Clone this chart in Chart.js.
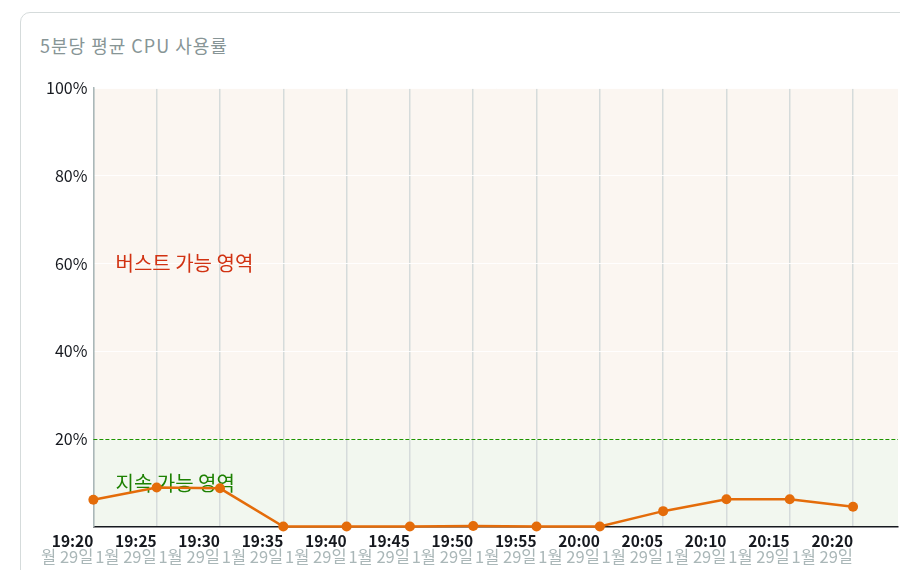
<!DOCTYPE html>
<html><head><meta charset="utf-8">
<script src="https://cdn.jsdelivr.net/npm/chart.js@4.4.1/dist/chart.umd.min.js"></script>
<style>
html,body{margin:0;padding:0;background:#fff;width:900px;height:570px;overflow:hidden;}
.card{position:absolute;left:20px;top:12px;width:920px;height:600px;border:1px solid #d5dbdb;border-radius:10px;box-sizing:border-box;background:#fff;}
.title{position:absolute;left:40px;top:32px;font-family:"Noto Sans CJK KR","Noto Sans",sans-serif;font-size:18px;color:#879596;letter-spacing:1px;}
.wrap{position:absolute;left:40px;top:70px;width:860px;height:500px;overflow:hidden;}
#c{position:absolute;left:0;top:0;}
</style></head>
<body>
<div class="card"></div>
<div class="title">5분당 평균 CPU 사용률</div>
<div class="wrap"><canvas id="c" width="863" height="500"></canvas></div>
<script>
const timeLabels = ["19:20","19:25","19:30","19:35","19:40","19:45","19:50","19:55","20:00","20:05","20:10","20:15","20:20"];
const dateLabels = ["1월 29일","1월 29일","1월 29일","1월 29일","1월 29일","1월 29일","1월 29일","1월 29일","1월 29일","1월 29일","1월 29일","1월 29일","1월 29일"];
const cpuValues = [6.2, 9.0, 8.8, 0.1, 0.1, 0.1, 0.2, 0.1, 0.1, 3.6, 6.3, 6.3, 4.6];
const yTickValues = [20, 40, 60, 80, 100];
const thresholdValue = 20;
const burstLabel = "버스트 가능 영역";
const sustainLabel = "지속 가능 영역";

const FONT = '"Noto Sans CJK KR","Noto Sans",sans-serif';

const zonePlugin = {
  id: 'zones',
  beforeDraw(chart) {
    const {ctx, chartArea: a, scales: {y}} = chart;
    const yt = y.getPixelForValue(thresholdValue);
    const y0 = y.getPixelForValue(0);
    const y1 = y.getPixelForValue(100);
    ctx.save();
    ctx.fillStyle = '#fbf6f1';
    ctx.fillRect(a.left, y1, a.right - a.left, yt - y1);
    ctx.fillStyle = '#f2f7ef';
    ctx.fillRect(a.left, yt, a.right - a.left, y0 - yt);
    ctx.restore();
  }
};
const overlayPlugin = {
  id: 'overlay',
  beforeDatasetsDraw(chart) {
    const {ctx, chartArea: a, scales: {x, y}} = chart;
    const yt = y.getPixelForValue(thresholdValue);
    ctx.save();
    ctx.strokeStyle = '#1f9400';
    ctx.lineWidth = 1;
    ctx.setLineDash([4, 2]);
    ctx.beginPath();
    ctx.moveTo(a.left, Math.round(yt) + 0.5);
    ctx.lineTo(a.right, Math.round(yt) + 0.5);
    ctx.stroke();
    ctx.setLineDash([]);
    ctx.font = '20px ' + FONT;
    ctx.textBaseline = 'middle';
    ctx.textAlign = 'left';
    ctx.fillStyle = '#d13212';
    ctx.fillText(burstLabel, x.getPixelForValue(0.35), y.getPixelForValue(60));
    ctx.fillStyle = '#1d8102';
    ctx.fillText(sustainLabel, x.getPixelForValue(0.35), y.getPixelForValue(10));
    ctx.restore();
  },
  afterDraw(chart) {
    // second line of the x tick labels (date), right-aligned at each tick
    const {ctx, chartArea: a, scales: {x}} = chart;
    ctx.save();
    ctx.font = '16.5px ' + FONT;
    ctx.fillStyle = '#aab7b8';
    ctx.textAlign = 'right';
    ctx.textBaseline = 'middle';
    dateLabels.forEach((lbl, i) => {
      ctx.fillText(lbl, x.getPixelForValue(i), a.bottom + 29.5);
    });
    ctx.restore();
  }
};

const xMax = 12.71;
new Chart(document.getElementById('c'), {
  type: 'line',
  data: {
    datasets: [{
      data: cpuValues.map((v, i) => ({x: i, y: v})),
      borderColor: '#e46c0a',
      backgroundColor: '#e46c0a',
      borderWidth: 2.5,
      pointRadius: 5,
      pointHoverRadius: 5,
      pointBackgroundColor: '#e46c0a',
      pointBorderWidth: 0,
      tension: 0,
      clip: false
    }]
  },
  options: {
    responsive: false,
    animation: false,
    events: [],
    layout: {padding: {top: 18, right: 0, bottom: 14, left: 0}},
    plugins: {legend: {display: false}, tooltip: {enabled: false}},
    scales: {
      x: {
        type: 'linear', min: 0, max: xMax,
        afterBuildTicks: (s) => { s.ticks = timeLabels.map((_, i) => ({value: i})); },
        ticks: {
          autoSkip: false, maxRotation: 0, align: 'end', padding: 6,
          color: '#16191f', font: {family: FONT, size: 15.5, weight: 'bold', lineHeight: 1.1},
          callback: (v) => timeLabels[v]
        },
        grid: {color: '#d5dbdb', lineWidth: 1.5, drawTicks: false},
        border: {display: true, color: '#16191f', width: 1.5}
      },
      y: {
        min: 0, max: 100,
        afterBuildTicks: (s) => { s.ticks = [{value: 0}].concat(yTickValues.map(v => ({value: v}))); },
        ticks: {
          color: '#16191f', font: {family: FONT, size: 16}, padding: 6,
          callback: (v) => yTickValues.includes(v) ? v + '%' : ''
        },
        grid: {color: 'rgba(255,255,255,0.9)', lineWidth: 1, drawTicks: false},
        border: {display: true, color: '#aab7b8', width: 1.5}
      }
    }
  },
  plugins: [zonePlugin, overlayPlugin]
});
</script>
</body></html>
